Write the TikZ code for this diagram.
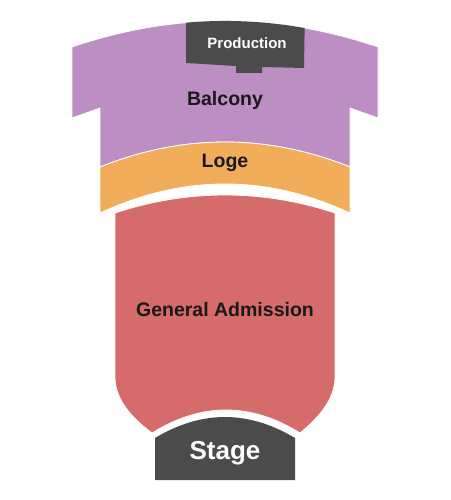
\documentclass[tikz,border=0pt]{standalone}
\usepackage{fontspec}
\setmainfont{Liberation Sans}
\usetikzlibrary{positioning}

\definecolor{balconyfill}{HTML}{BC8EC4}
\definecolor{logefill}{HTML}{F2AD5B}
\definecolor{gafill}{HTML}{D66B6B}
\definecolor{darkfill}{HTML}{4B4B4B}

\begin{document}
\begin{tikzpicture}[
  x=1pt, y=-1pt,
  zone/.style={draw=white, line width=0.8pt},
  zonetext/.style={text=black!90, font=\fontsize{19.5}{22}\selectfont\bfseries},
  darktext/.style={text=white, font=\fontsize{#1}{#1}\selectfont\bfseries}
]
\useasboundingbox (0,0) rectangle (450,500);

\path[zone, fill=balconyfill] (72,47) .. controls (174,12.3) and (276,12.3) .. (378,47)
  -- (378,118) -- (350,108) -- (350,167)
  .. controls (267,133.7) and (183,133.7) .. (100,167)
  -- (100,108) -- (72,118) -- cycle;

\begin{scope}
  \clip (72,47) .. controls (174,12.3) and (276,12.3) .. (378,47) -- (378,100) -- (72,100) -- cycle;
  \fill[darkfill] (186,5) -- (305,5) -- (304,68) -- (262,67) -- (262,73) -- (236,73) -- (236,66) -- (186,63) -- cycle;
\end{scope}

\path[zone, fill=logefill] (100,167) .. controls (183,133.7) and (267,133.7) .. (350,167)
  -- (350,213) .. controls (267,174.3) and (183,174.3) .. (100,213) -- cycle;

\path[zone, fill=gafill] (115,213) .. controls (188,189) and (262,189) .. (335,213)
  -- (335,377) .. controls (335,400) and (318,418) .. (300,433)
  .. controls (251,402.3) and (201,402.3) .. (152,433)
  .. controls (132,418) and (115,400) .. (115,377) -- cycle;

\fill[darkfill] (155,438) .. controls (202,410) and (248,410) .. (295,438)
  -- (295,480) -- (155,480) -- cycle;

\node[darktext=15] (production) at (247,43) {Production};
\node[zonetext] (balcony) at (225,100) {Balcony};
\node[zonetext] (loge) at (225,163) {Loge};
\node[zonetext] (ga) at (225,310) {General Admission};
\node[darktext=26] (stage) at (225,453) {Stage};
\end{tikzpicture}
\end{document}
